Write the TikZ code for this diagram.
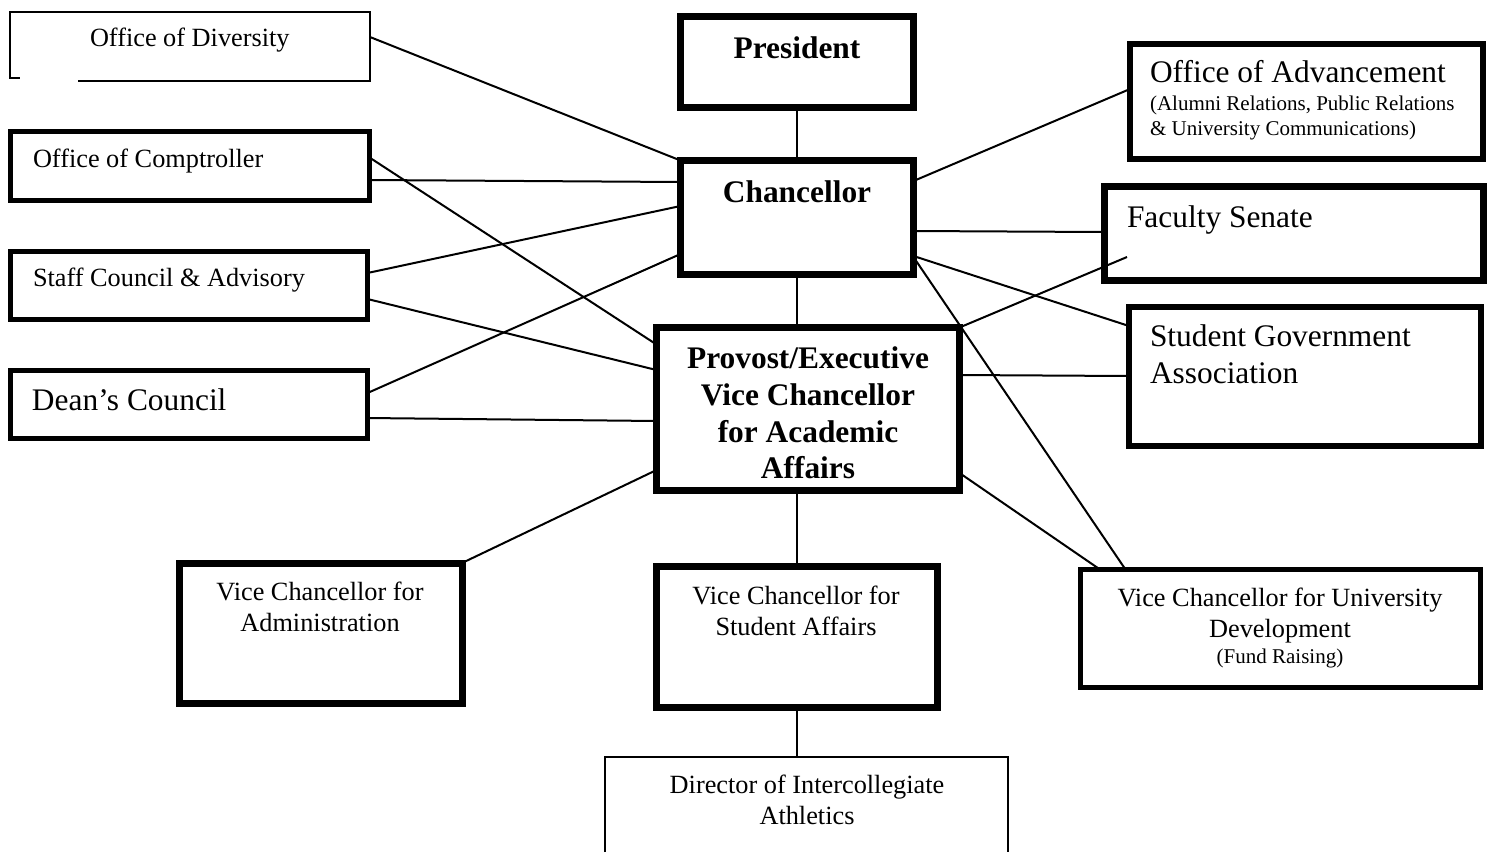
\documentclass[tikz,border=0pt]{standalone}
\usepackage{fontspec}
\setmainfont{Liberation Serif}
\usetikzlibrary{calc}
\begin{document}
\begin{tikzpicture}[x=0.5pt,y=-0.5pt,
  bx/.style 2 args={rectangle, inner sep=0pt, outer sep=0pt, minimum width=#1*0.5pt, minimum height=#2*0.5pt},
  thinbox/.style={draw, line width=1pt},
  thickbox/.style={draw, line width=2.6pt},
  heavybox/.style={draw, line width=3.5pt},
  link/.style={line width=1pt},
  txt/.style={inner sep=0pt, outer sep=0pt, font=\fontsize{13.15}{15.5}\selectfont},
  bigtxt/.style={inner sep=0pt, outer sep=0pt, font=\fontsize{15.7}{18.5}\selectfont},
  boldtxt/.style={inner sep=0pt, outer sep=0pt, font=\fontsize{15.7}{18.5}\selectfont\bfseries},
  smalltxt/.style={inner sep=0pt, outer sep=0pt, font=\fontsize{10.5}{12.5}\selectfont}
]
\useasboundingbox (0,0) rectangle (1491,852);

% boxes
\node[bx={360}{69}] (div) at (190,46.5) {};
\node[bx={359}{69}, thickbox] (comp) at (190,166) {};
\node[bx={357}{68}, thickbox] (staff) at (189,285.5) {};
\node[bx={357}{68}, thickbox] (dean) at (189,404.5) {};
\node[bx={233}{91}, heavybox] (pres) at (797,62) {};
\node[bx={233}{114}, heavybox] (chan) at (797,217.5) {};
\node[bx={303}{163}, heavybox] (prov) at (808,409) {};
\node[bx={353}{115}, thickbox] (adv) at (1306.5,101.5) {};
\node[bx={379}{94}, heavybox] (fac) at (1293.5,233) {};
\node[bx={352}{139}, thickbox] (sga) at (1305,376.5) {};
\node[bx={283}{140}, heavybox] (vca) at (320.5,633) {};
\node[bx={281}{141}, heavybox] (vcs) at (796.5,636.5) {};
\node[bx={400}{118}, thickbox] (vcu) at (1280.5,628.5) {};
\node[bx={403}{95}] (dir) at (806.5,804.5) {};

% open borders
\draw[line width=1pt] ($(div.south west)+(68,0)$) -- (div.south east) -- (div.north east) -- (div.north west) -- ($(div.south west)+(0,-3)$) -- ++(10,0);
\draw[line width=1pt] (dir.south west) -- (dir.north west) -- (dir.north east) -- (dir.south east);

% texts
\node[txt, anchor=base west] (tdiv) at (90,46) {Office of Diversity};
\node[txt, anchor=base west] (tcomp) at (33,167) {Office of Comptroller};
\node[txt, anchor=base west] (tstaff) at (33,286) {Staff Council \& Advisory};
\node[bigtxt, anchor=base west] (tdean) at (32,410) {Dean’s Council};
\node[boldtxt, anchor=base] (tpres) at (797,58) {President};
\node[boldtxt, anchor=base] (tchan) at (797,202) {Chancellor};
\node[boldtxt, anchor=base] (tprov1) at (808,368) {Provost/Executive};
\node[boldtxt, anchor=base] (tprov2) at (808,405) {Vice Chancellor};
\node[boldtxt, anchor=base] (tprov3) at (808,442) {for Academic};
\node[boldtxt, anchor=base] (tprov4) at (808,478) {Affairs};
\node[bigtxt, anchor=base west] (tadv1) at (1150,82) {Office of Advancement};
\node[smalltxt, anchor=base west] (tadv2) at (1150,110) {(Alumni Relations, Public Relations};
\node[smalltxt, anchor=base west] (tadv3) at (1150,135) {\& University Communications)};
\node[bigtxt, anchor=base west] (tfac) at (1127,227) {Faculty Senate};
\node[bigtxt, anchor=base west] (tsga1) at (1150,346) {Student Government};
\node[bigtxt, anchor=base west] (tsga2) at (1150,383) {Association};
\node[txt, anchor=base] (tvca1) at (320,600) {Vice Chancellor for};
\node[txt, anchor=base] (tvca2) at (320,631) {Administration};
\node[txt, anchor=base] (tvcs1) at (796,604) {Vice Chancellor for};
\node[txt, anchor=base] (tvcs2) at (796,635) {Student Affairs};
\node[txt, anchor=base] (tvcu1) at (1280,606) {Vice Chancellor for University};
\node[txt, anchor=base] (tvcu2) at (1280,637) {Development};
\node[smalltxt, anchor=base] (tvcu3) at (1280,663) {(Fund Raising)};
\node[txt, anchor=base] (tdir1) at (807,793) {Director of Intercollegiate};
\node[txt, anchor=base] (tdir2) at (807,824) {Athletics};

% connectors
\coordinate (fsin) at ($(fac.north west)+(23,71)$);
\draw[link] (pres.south) -- (chan.north);
\draw[link] (chan.south) -- (chan.south |- prov.north);
\draw[link] (vcs.north |- prov.south) -- (vcs.north);
\draw[link] (vcs.south) -- (vcs.south |- dir.north);
\draw[link] ($(div.north east)+(0,25)$) -- (chan.north west);
\draw[link] ($(comp.north east)+(0,48.5)$) -- ($(chan.north west)+(0,21.5)$);
\draw[link] ($(comp.north east)+(0,26)$) -- ($(prov.north west)+(0,17)$);
\draw[link] ($(staff.north east)+(0,21.5)$) -- ($(chan.north west)+(0,45.5)$);
\draw[link] ($(staff.north east)+(0,47.5)$) -- ($(prov.north west)+(0,42.5)$);
\draw[link] ($(dean.north east)+(0,22.5)$) -- ($(chan.north west)+(0,93.5)$);
\draw[link] ($(dean.north east)+(0,47.5)$) -- ($(prov.north west)+(0,93.5)$);
\draw[link] (vca.north east) -- ($(prov.north west)+(0,142.5)$);
\draw[link] ($(chan.north east)+(0,20.5)$) -- ($(adv.north west)+(0,45)$);
\draw[link] ($(chan.north east)+(0,70.5)$) -- ($(fac.north west)+(0,46)$);
\draw[link] ($(chan.north east)+(0,95.5)$) -- ($(sga.north west)+(0,19)$);
\draw[link] ($(chan.north east)+(2,99.5)$) -- ($(vcu.north west)+(45,0)$);
\draw[link] (prov.north east) -- (fsin);
\draw[link] ($(prov.north east)+(0,47.5)$) -- ($(sga.north west)+(0,69)$);
\draw[link] ($(prov.north east)+(0,145.5)$) -- ($(vcu.north west)+(19.5,0)$);
\end{tikzpicture}
\end{document}
